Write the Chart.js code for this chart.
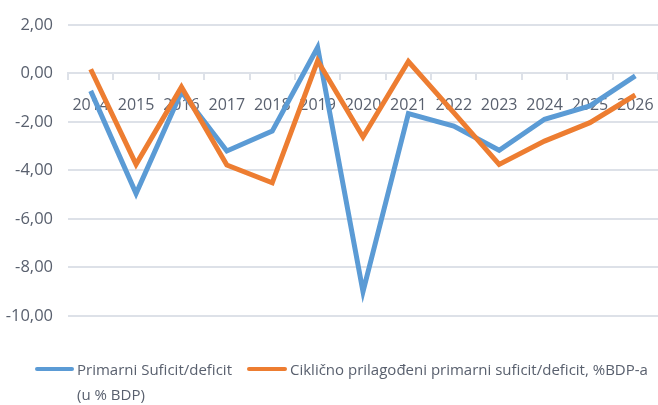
<!DOCTYPE html>
<html>
<head>
<meta charset="utf-8">
<script src="https://cdn.jsdelivr.net/npm/chart.js@4/dist/chart.umd.min.js"></script>
<style>
    html, body { margin: 0; padding: 0; background: #fff; }
    #wrap { position: relative; width: 658px; height: 405px; overflow: hidden; }
    #chart { position: absolute; left: 0; top: 0; }
    .leg { position: absolute; font-family: "Open Sans", sans-serif;
           font-size: 15px; line-height: 25px; color: #59606e; }
    .mark { position: absolute; height: 4px; border-radius: 2px; }
</style>
</head>
<body>
<div id="wrap">
    <canvas id="chart" width="658" height="405"></canvas>
    <div class="mark" style="left:35px; top:367px; width:39px; background:#5B9BD5;"></div>
    <div class="leg" style="left:77px; top:357px; width:165px;">Primarni Suficit/deficit (u % BDP)</div>
    <div class="mark" style="left:247px; top:367px; width:40px; background:#ED7D31;"></div>
    <div class="leg" style="left:290px; top:357px; white-space:nowrap;">Ciklično prilagođeni primarni suficit/deficit, %BDP-a</div>
</div>
<script>
/* ================= DATA ================= */
const years = ["2014", "2015", "2016", "2017", "2018", "2019", "2020",
               "2021", "2022", "2023", "2024", "2025", "2026"];

const primarni = [-0.72, -4.95, -0.75, -3.2, -2.38, 1.07, -9.0,
                  -1.66, -2.17, -3.17, -1.89, -1.34, -0.1];

const ciklicno = [0.17, -3.75, -0.56, -3.78, -4.51, 0.52, -2.62,
                  0.49, -1.62, -3.75, -2.79, -2.03, -0.89];

const labelPrimarni = "Primarni Suficit/deficit (u % BDP)";
const labelCiklicno = "Ciklično prilagođeni primarni suficit/deficit, %BDP-a";

/* ================= CHART ================= */
const FONT = "'Open Sans', sans-serif";
const TXT = "#59606e";
const GRID = "#dde1e8";

new Chart(document.getElementById("chart"), {
    type: "line",
    data: {
        labels: years,
        datasets: [{
            label: labelPrimarni,
            data: primarni,
            borderColor: "#5B9BD5",
            borderWidth: 5,
            pointRadius: 0,
            tension: 0,
            order: 1
        }, {
            label: labelCiklicno,
            data: ciklicno,
            borderColor: "#ED7D31",
            borderWidth: 5,
            pointRadius: 0,
            tension: 0,
            order: 0
        }]
    },
    options: {
        responsive: false,
        animation: false,
        layout: { padding: { left: 0, right: 0, top: 14.5, bottom: 89 } },
        plugins: {
            legend: { display: false },
            tooltip: { enabled: false }
        },
        scales: {
            x: {
                position: { y: 0 },
                offset: true,
                // axis sits inside the chart area; let the last category run past the edge a bit
                afterFit: s => {
                    s.paddingLeft = 0;
                    s.paddingRight = 0;
                    s.width = s._length = s.right - s.left + 5;
                },
                grid: {
                    offset: true,
                    drawOnChartArea: false,
                    color: GRID,
                    lineWidth: 2,
                    tickLength: 6
                },
                border: { color: GRID, width: 2 },
                ticks: {
                    color: TXT,
                    font: { family: FONT, size: 16 },
                    padding: 16,
                    maxRotation: 0,
                    autoSkip: false
                }
            },
            y: {
                min: -10,
                max: 2,
                afterFit: s => { s.width = 68; },
                grid: {
                    color: GRID,
                    lineWidth: 2,
                    drawTicks: false
                },
                border: { display: false },
                ticks: {
                    stepSize: 2,
                    color: TXT,
                    font: { family: FONT, size: 16.5 },
                    padding: 15,
                    callback: v => v.toFixed(2).replace(".", ",")
                }
            }
        }
    }
});
</script>
</body>
</html>
